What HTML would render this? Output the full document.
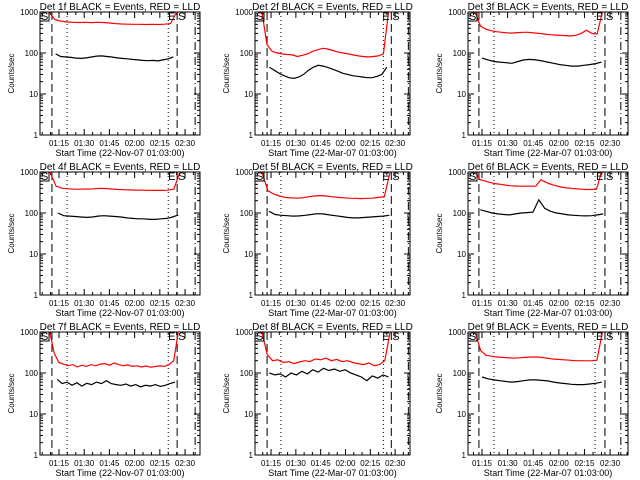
<!DOCTYPE html>
<html><head><meta charset="utf-8"><style>
html,body{margin:0;padding:0;background:#fff;}
svg{display:block;font-family:"Liberation Sans",sans-serif;}
</style></head><body>
<svg id="c" width="640" height="480" viewBox="0 0 640 480"></svg>
<script>
// per-column x geometry (pixels) and time range (minutes after 01:00)
const colLeft=[40,255,468], colRight=[200,410,628];
const colTmin=[63.7,65.3,66.8], colTmax=[158.9,159,160.5];
// marker line times per column (minutes after 01:00)
const dashL=[70.8,72.6,73.2], dotL=[79.8,81,82], dotR=[140,142.9,141.2], dashR=[145.3,147.7,147], dashDot=[156,158,156.3];
const xTickMin=[75,90,105,120,135,150];
const xTickLabels=["01:15","01:30","01:45","02:00","02:15","02:30"];
const yTicks=[1,10,100,1000];
const yTickLabels=["1","10","100","1000"];
const detNames=["1f","2f","3f","4f","5f","6f","7f","8f","9f"];
const dates=["22-Nov-07","22-Mar-07","22-Mar-07","22-Nov-07","22-Mar-07","22-Mar-07","22-Nov-07","22-Mar-07","22-Mar-07"];
// series: start/end time and evenly spaced values
const redStart=[69,69.5,71,69.6,69.5,71,69.5,69.5,71];
const redEnd=[145,146,145.5,147,147,145,146,147,145.5];
const blackStart=[73,74,75,74.4,73.8,74,74,74,75];
const blackEnd=[143,145,145,146,146.5,146,144,146,145];
const red1=[1200,650,600,570,560,555,560,550,560,555,540,520,510,505,500,500,495,500,495,505,520,1200];
const black1=[95,82,80,78,75,74,76,80,84,85,82,80,76,74,72,70,68,66,65,66,64,68,72,80];
const red2=[1200,160,110,100,95,92,90,82,88,95,110,120,130,125,115,105,100,95,90,85,82,80,82,85,95,1200];
const black2=[45,38,32,28,25,24,26,30,38,45,50,48,44,40,36,32,30,28,27,26,25,25,27,30,45];
const red3=[1200,450,380,350,330,320,310,305,315,320,320,310,300,290,280,275,270,265,260,270,300,360,300,290,1200];
const black3=[75,68,62,60,58,56,62,68,70,68,64,60,56,52,50,48,48,50,52,55,60];
const red4=[1200,450,400,390,380,380,385,390,400,395,385,375,370,365,360,360,358,355,355,360,380,1200];
const black4=[100,86,84,82,80,78,80,84,86,84,82,80,76,74,72,72,70,70,72,74,80,90];
const red5=[1200,350,290,260,240,235,230,235,250,260,265,260,250,240,235,230,228,225,228,230,240,250,1200];
const black5=[110,92,88,86,84,85,88,92,96,95,90,86,82,78,76,76,78,80,82,84,88];
const red6=[1200,650,600,550,520,500,480,460,455,450,450,450,450,650,560,500,460,430,410,400,390,380,375,375,380,1200];
const black6=[120,110,100,95,92,90,95,100,102,105,210,130,110,100,95,90,88,86,85,86,90,95];
const red7=[1200,300,180,165,150,160,140,155,145,160,150,165,170,155,175,160,150,158,145,150,140,148,138,145,150,145,160,200,1200];
const black7=[70,55,60,50,58,48,56,52,60,55,65,55,52,50,54,48,52,46,50,48,52,47,50,55,60];
const red8=[1200,280,200,210,180,190,170,185,200,190,220,210,230,200,215,190,200,180,170,160,175,150,160,200,1200];
const black8=[100,90,95,80,100,90,110,95,120,105,130,115,125,110,120,100,90,80,65,85,75,90,80];
const red9=[1200,350,270,255,245,240,235,230,235,240,245,245,240,230,220,215,210,205,200,200,198,200,205,1200];
const black9=[80,72,68,65,62,60,62,65,68,68,66,64,60,57,55,53,52,52,54,56,60];
const redData=[red1,red2,red3,red4,red5,red6,red7,red8,red9];
const blackData=[black1,black2,black3,black4,black5,black6,black7,black8,black9];

const NS="http://www.w3.org/2000/svg";
const svg=document.getElementById('c');
function mk(tag,attrs,parent){const e=document.createElementNS(NS,tag);for(const k in attrs)e.setAttribute(k,attrs[k]);(parent||svg).appendChild(e);return e;}

for(let p=0;p<9;p++){
  const col=p%3,row=Math.floor(p/3),oy=row*160;
  const L=colLeft[col],R=colRight[col],T=oy+12,B=oy+135;
  const xs=t=>L+(t-colTmin[col])/(colTmax[col]-colTmin[col])*(R-L);
  const ys=v=>{const c=Math.min(Math.max(v,1),1000);return B-(Math.log10(c))/3*(B-T);};
  const g=mk('g',{});
  
  
  const title=mk('text',{x:(L+R)/2,y:oy+10,'text-anchor':'middle','font-size':'10'},g);
  title.textContent='Det '+detNames[p]+' BLACK = Events, RED = LLD';
  
  
  const yl=mk('text',{x:0,y:0,'text-anchor':'middle','font-size':'8',transform:'translate('+(L-26)+','+((T+B)/2)+') rotate(-90)'},g);
  yl.textContent='Counts/sec';
  
  
  const xl=mk('text',{x:(L+R)/2,y:oy+156,'text-anchor':'middle','font-size':'9'},g);
  xl.textContent='Start Time ('+dates[p]+' 01:03:00)';
  
  
  const fr=mk('rect',{x:L,y:T,width:R-L,height:B-T,fill:'none',stroke:'#000','stroke-width':1},g);
  
  
  for(let i=0;i<yTicks.length;i++){
    const y=ys(yTicks[i]);
    mk('line',{x1:L,x2:L+6,y1:y,y2:y,stroke:'#000'},g);
    mk('line',{x1:R,x2:R-6,y1:y,y2:y,stroke:'#000'},g);
    const tl=mk('text',{x:L-2,y:y+3,'text-anchor':'end','font-size':'8'},g);
    tl.textContent=yTickLabels[i];
    
    
    if(i<3){for(let m=2;m<10;m++){const ym=ys(yTicks[i]*m);
      mk('line',{x1:L,x2:L+3,y1:ym,y2:ym,stroke:'#000'},g);
      mk('line',{x1:R,x2:R-3,y1:ym,y2:ym,stroke:'#000'},g);}}
  }
  for(let i=0;i<xTickMin.length;i++){
    const x=xs(xTickMin[i]);
    mk('line',{x1:x,x2:x,y1:B,y2:B-6,stroke:'#000'},g);
    mk('line',{x1:x,x2:x,y1:T,y2:T+6,stroke:'#000'},g);
    const tl=mk('text',{x:x,y:oy+146,'text-anchor':'middle','font-size':'8'},g);
    tl.textContent=xTickLabels[i];
    
    
  }
  for(let t=65;t<=160;t+=5){if(t%15===0)continue;const x=xs(t);if(x<L||x>R)continue;
    mk('line',{x1:x,x2:x,y1:B,y2:B-3,stroke:'#000'},g);
    mk('line',{x1:x,x2:x,y1:T,y2:T+3,stroke:'#000'},g);}
  const vl=(t,dash,name)=>{const x=xs(t);const l=mk('line',{x1:x,x2:x,y1:T,y2:B,stroke:'#000','stroke-dasharray':dash},g);
    
    };
  vl(dashL[col],'8,4','start-dashed-line');
  vl(dotL[col],'1,3','start-dotted-line');
  vl(dotR[col],'1,3','end-dotted-line');
  vl(dashR[col],'8,4','end-dashed-line');
  vl(dashDot[col],'8,3,1,3','dash-dot-line');
  const poly=(arr,t0,t1,color,name)=>{const n=arr.length;const pts=arr.map((v,i)=>xs(t0+(t1-t0)*i/(n-1)).toFixed(1)+','+ys(v).toFixed(1)).join(' ');
    const pl=mk('polyline',{points:pts,fill:'none',stroke:color,'stroke-width':1.2},g);
    
    };
  poly(redData[p],redStart[p],redEnd[p],'#f00','lld-series');
  poly(blackData[p],blackStart[p],blackEnd[p],'#000','events-series');
  const s1=mk('text',{x:L+1,y:T+8,'font-size':'11'},g);s1.textContent='S';
  
  
  mk('rect',{x:L,y:T,width:9,height:9,fill:'none',stroke:'#000'},g);
  const e1=mk('text',{x:xs(dashR[col])-9,y:T+8,'font-size':'11'},g);e1.textContent='E';
  
  
  const s2=mk('text',{x:xs(dashR[col])+1,y:T+8,'font-size':'11'},g);s2.textContent='S';
  
  
}
</script>
</body></html>
